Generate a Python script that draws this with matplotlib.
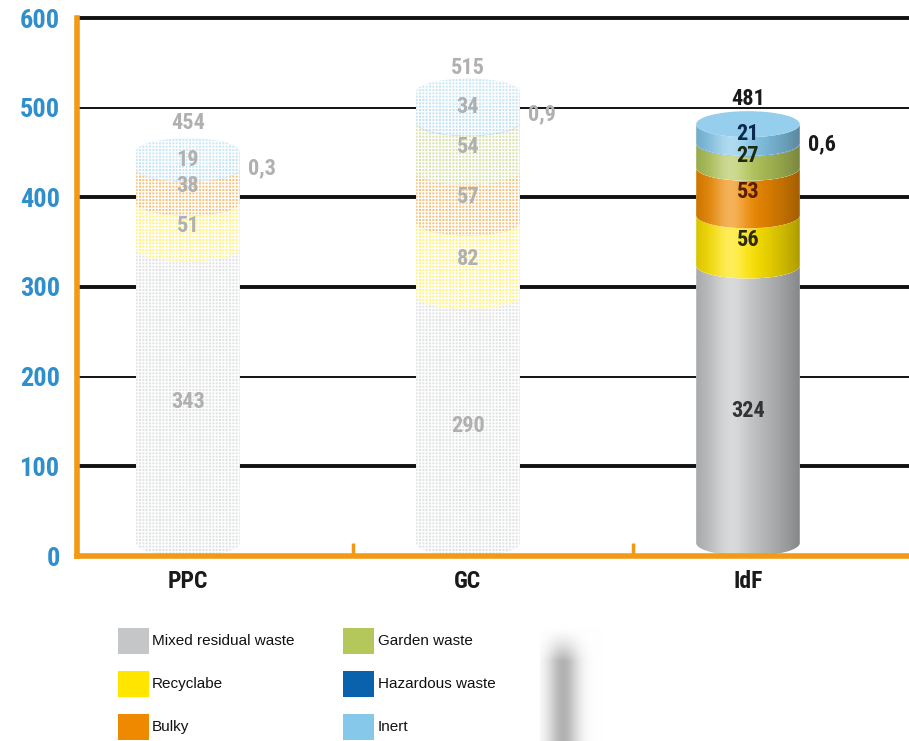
import numpy as np
import matplotlib
matplotlib.use("Agg")
import matplotlib.pyplot as plt
from matplotlib.patches import Rectangle, PathPatch, Ellipse
from matplotlib.path import Path
from matplotlib import font_manager
from matplotlib.colors import to_rgb

# ---- data -------------------------------------------------------------
categories = ["PPC", "GC", "IdF"]
mixed = [343, 290, 324]
recyclable = [51, 82, 56]
bulky = [38, 57, 53]
garden = [0, 54, 27]
hazardous = [0.3, 0.9, 0.6]
inert = [19, 34, 21]
totals = [454, 515, 481]
faded = [True, True, False]

series_names = ["Mixed residual waste", "Recyclabe", "Bulky",
                "Garden waste", "Hazardous waste", "Inert"]
series_values = [mixed, recyclable, bulky, garden, hazardous, inert]
series_colors = ["#c4c6c8", "#ffe500", "#ef8a00", "#b3c75a", "#0a62ad", "#86c8ea"]
label_colors = ["#333333", "#2a2a10", "#5a1e00", "#1e2a10", "#0a2a50", "#0a2a50"]
yticks = [0, 100, 200, 300, 400, 500, 600]


def pick_font(*names):
    avail = {f.name for f in font_manager.fontManager.ttflist}
    for n in names:
        if n in avail:
            return n
    return "DejaVu Sans"


COND = pick_font("Liberation Sans Narrow", "Roboto Condensed", "DejaVu Sans")
REG = pick_font("Liberation Sans", "DejaVu Sans")

W, H = 909, 741
fig = plt.figure(figsize=(W / 100, H / 100), dpi=100)
fig.patch.set_facecolor("white")

ax_left, ax_right, ax_top, ax_bot = 77, 909, 18, 556
ax = fig.add_axes([ax_left / W, 1 - ax_bot / H,
                   (ax_right - ax_left) / W, (ax_bot - ax_top) / H])
ax.set_xlim(-0.396, 2.575)
ax.set_ylim(0, 600)
ax.set_facecolor("none")

ORANGE = "#f29a14"
for s in ["top", "right"]:
    ax.spines[s].set_visible(False)
for s in ["left", "bottom"]:
    ax.spines[s].set_color(ORANGE)
    ax.spines[s].set_linewidth(4)
    ax.spines[s].set_zorder(6)

# horizontal rules
for v in yticks[1:]:
    lw = 1.4 if v in (200, 500) else 2.8
    ax.axhline(v, color="#111111", lw=lw, zorder=1, clip_on=False)

ax.set_yticks(yticks)
ax.set_yticklabels([str(v) for v in yticks], fontfamily=COND,
                   fontweight="bold", fontsize=19, color="#2f8fcc")
ax.tick_params(axis="y", length=0, pad=12)

xs = np.arange(len(categories))
ax.set_xticks(xs)
ax.set_xticklabels(categories, fontfamily=COND, fontweight="bold",
                   fontsize=17, color="#1a1a1a")
ax.tick_params(axis="x", length=0, pad=10)

# small separators on the baseline
for sx in [0.589, 1.589]:
    ax.plot([sx, sx], [0, 15], color=ORANGE, lw=2.5, zorder=6,
            solid_capstyle="butt")

A = 0.185      # half width (data units)
E = 14.5       # half height of the elliptical caps (data units)
theta = np.linspace(np.pi, 2 * np.pi, 60)
FADE_KEEP = 0.5
plt.rcParams["hatch.linewidth"] = 0.9
HATCH = "+++++"


def lower_arc(c, y):
    return c + A * np.cos(theta), y + E * np.sin(theta)


def shade_image(color, fade):
    u = np.linspace(0, 1, 200)
    base = np.array(to_rgb(color))
    dark = 1 - 0.32 * (np.abs(u - 0.38) / 0.62) ** 1.6
    hi = 0.35 * np.exp(-((u - 0.33) / 0.16) ** 2)
    rgb = base[None, :] * dark[:, None]
    rgb = rgb + (1 - rgb) * hi[:, None]
    if fade:
        flat = base * FADE_KEEP + (1 - FADE_KEEP)
        rgb = np.repeat(flat[None, :], len(u), axis=0)
    return np.clip(rgb[None, :, :], 0, 1)


def fill_shape(verts, color, fade, zorder, x0, x1, y0, y1):
    path = Path(verts, closed=True)
    patch = PathPatch(path, facecolor="white", edgecolor="none", zorder=zorder)
    ax.add_patch(patch)
    im = ax.imshow(shade_image(color, fade), extent=[x0, x1, y0, y1],
                   aspect="auto", zorder=zorder + 0.1, interpolation="bilinear")
    im.set_clip_path(patch)
    if fade:
        hp = PathPatch(path, facecolor="none", edgecolor="white", lw=0,
                       hatch=HATCH, zorder=zorder + 0.2)
        ax.add_patch(hp)


for i, c in enumerate(xs):
    fd = faded[i]
    bottom = 0.0
    z = 3
    for k, vals in enumerate(series_values):
        v = vals[i]
        if v <= 0:
            continue
        b, t = bottom, bottom + v
        bb = max(b, E)
        xb, yb = lower_arc(c, bb)
        xt, yt = lower_arc(c, t)
        verts = np.column_stack([np.concatenate([xb, xt[::-1]]),
                                 np.concatenate([yb, yt[::-1]])])
        fill_shape(verts, series_colors[k], fd, z, c - A, c + A,
                   bb - E - 1, t + 1)
        z += 0.3
        bottom = t
    # top cap
    top = bottom
    cap_col = np.array(to_rgb(series_colors[5]))
    cap_col = cap_col + (1 - cap_col) * 0.12
    if fd:
        cap_col = np.array(to_rgb(series_colors[5])) * FADE_KEEP + (1 - FADE_KEEP)
        cap_col = cap_col + (1 - cap_col) * 0.15
    cap = Ellipse((c, top), 2 * A, 2 * E, facecolor=cap_col,
                  edgecolor="none", zorder=z + 0.5)
    ax.add_patch(cap)
    if fd:
        ax.add_patch(Ellipse((c, top), 2 * A, 2 * E, facecolor="none",
                             edgecolor="white", lw=0, hatch=HATCH,
                             zorder=z + 0.6))

    # values
    faded_txt = "#b0b0b0"
    bottom = 0.0
    for k, vals in enumerate(series_values):
        v = vals[i]
        if v <= 0:
            continue
        if k == 4:
            ax.text(c + A + 0.03, totals[i] - 22, f"{v}".replace(".", ","),
                    ha="left", va="center", fontfamily=COND,
                    fontweight="bold", fontsize=16,
                    color=faded_txt if fd else "#1a1a1a", zorder=10)
        else:
            ax.text(c, bottom + v / 2, str(v), ha="center", va="center",
                    fontfamily=COND, fontweight="bold", fontsize=16,
                    color=faded_txt if fd else label_colors[k], zorder=10)
        bottom += v
    ax.text(c, totals[i] + 29, str(totals[i]), ha="center", va="center",
            fontfamily=COND, fontweight="bold", fontsize=16,
            color=faded_txt if fd else "#1a1a1a", zorder=10)

# ---- legend -----------------------------------------------------------
def fx(x):
    return x / W


def fy(y):
    return 1 - y / H


# soft shadow strip on the right of the legend panel (fades out upwards)
sh = fig.add_axes([fx(540), fy(741), fx(64), (741 - 626) / H])
gx = np.linspace(0, 1, 160)
prof = 0.30 * np.exp(-((gx - 0.36) / 0.24) ** 2)
gy = np.linspace(0, 1, 80)[:, None]          # 0 at top row, 1 at bottom row
vfade = np.clip(gy / 0.3, 0, 1) ** 1.5
depth = prof[None, :] * vfade
img = 1 - depth
sh.imshow(np.dstack([img] * 3), aspect="auto", extent=[0, 1, 0, 1],
          origin="upper", interpolation="bilinear")
sh.axis("off")

legend_layout = [
    (0, 118, 628, 152), (3, 343, 628, 378),
    (1, 118, 671, 152), (4, 343, 671, 378),
    (2, 118, 714, 152), (5, 343, 714, 378),
]
for k, sx, sy, tx in legend_layout:
    fig.patches.append(Rectangle((fx(sx), fy(sy + 26)), fx(31), 26 / H,
                                 transform=fig.transFigure,
                                 facecolor=series_colors[k],
                                 edgecolor="none"))
    fig.text(fx(tx), fy(sy + 13), series_names[k], ha="left", va="center",
             fontfamily=REG, fontsize=11, color="#111111")

fig.savefig("out.png", dpi=100, facecolor="white")
